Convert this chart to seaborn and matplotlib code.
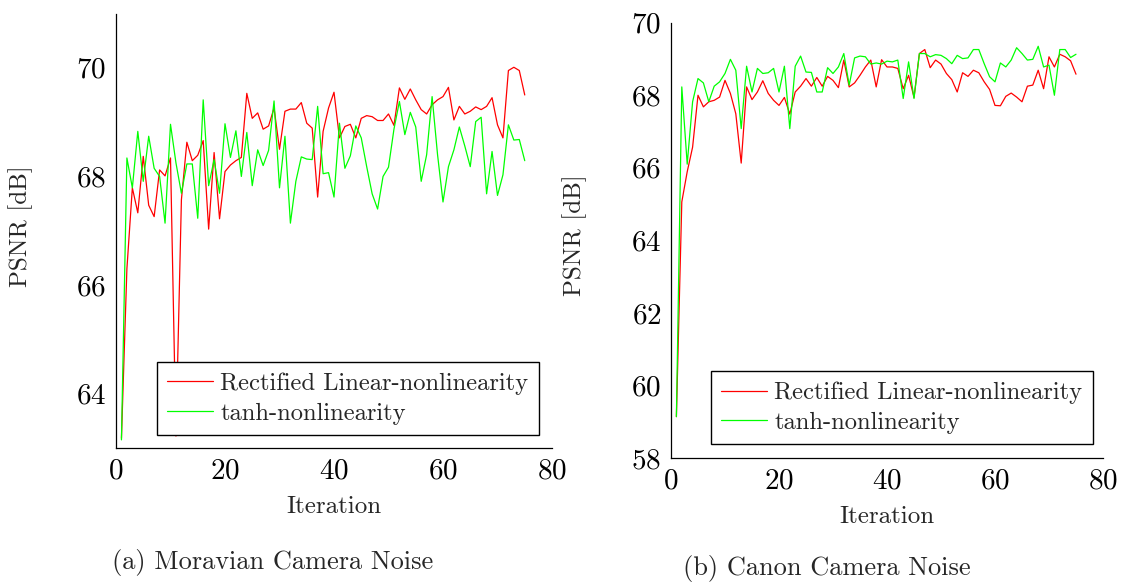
import numpy as np
import pandas as pd
import matplotlib
matplotlib.use("Agg")
import matplotlib.pyplot as plt
import seaborn as sns

# ---------------- data ----------------
iterations = list(range(1, 76))

moravian_relu = [63.18, 66.30, 67.79, 67.33, 68.37, 67.47, 67.26, 68.12, 68.01, 68.34,
                 63.22, 67.57, 68.63, 68.29, 68.39, 68.66, 67.03, 68.44, 67.22, 68.09,
                 68.21, 68.29, 68.35, 69.53, 69.07, 69.17, 68.87, 68.93, 69.26, 68.50,
                 69.20, 69.24, 69.24, 69.36, 68.98, 68.89, 67.62, 68.83, 69.26, 69.55,
                 68.71, 68.92, 68.96, 68.71, 69.07, 69.12, 69.10, 69.03, 69.03, 69.15,
                 68.94, 69.63, 69.42, 69.61, 69.41, 69.23, 69.15, 69.32, 69.41, 69.47,
                 69.64, 69.04, 69.29, 69.15, 69.20, 69.28, 69.23, 69.29, 69.45, 68.95,
                 68.71, 69.95, 70.01, 69.95, 69.50]

moravian_tanh = [63.15, 68.34, 67.79, 68.83, 67.91, 68.74, 68.15, 68.00, 67.14, 68.96,
                 68.25, 67.69, 68.23, 68.23, 67.23, 69.41, 67.83, 68.31, 67.69, 68.97,
                 68.35, 68.84, 68.00, 68.81, 67.83, 68.49, 68.20, 68.48, 69.39, 67.79,
                 68.74, 67.14, 67.91, 68.36, 68.32, 68.31, 69.29, 68.05, 68.07, 67.62,
                 68.98, 68.15, 68.38, 68.93, 68.71, 68.18, 67.68, 67.40, 68.00, 68.17,
                 68.87, 69.38, 68.77, 69.18, 68.91, 67.91, 68.40, 69.47, 68.40, 67.53,
                 68.18, 68.49, 68.91, 68.56, 68.18, 69.01, 69.09, 67.68, 68.46, 67.65,
                 68.03, 68.95, 68.67, 68.68, 68.29]

canon_relu = [59.14, 65.06, 65.89, 66.57, 68.00, 67.68, 67.82, 67.86, 67.95, 68.41,
              68.05, 67.49, 66.13, 68.23, 67.88, 68.09, 68.40, 68.05, 67.86, 67.72,
              67.94, 67.48, 68.09, 68.25, 68.46, 68.25, 68.49, 68.25, 68.52, 68.41,
              68.21, 68.97, 68.23, 68.34, 68.55, 68.78, 68.97, 68.23, 68.98, 68.78,
              68.78, 68.74, 68.18, 68.55, 67.94, 69.15, 69.26, 68.76, 68.97, 68.86,
              68.60, 68.43, 68.09, 68.62, 68.52, 68.69, 68.62, 68.37, 68.16, 67.72,
              67.71, 67.97, 68.06, 67.95, 67.82, 68.25, 68.28, 68.69, 68.18, 69.06,
              68.78, 69.13, 69.06, 68.95, 68.58]

canon_tanh = [59.14, 68.23, 66.10, 67.82, 68.46, 68.34, 67.82, 68.25, 68.37, 68.60,
              68.99, 68.69, 67.08, 68.80, 68.09, 68.74, 68.60, 68.62, 68.74, 68.09,
              68.80, 67.08, 68.80, 69.08, 68.64, 68.63, 68.09, 68.09, 68.76, 68.60,
              68.78, 69.15, 68.28, 69.03, 69.08, 69.06, 68.86, 68.89, 68.86, 68.94,
              68.92, 68.97, 67.91, 68.92, 67.91, 69.15, 69.15, 69.06, 69.12, 69.10,
              69.01, 68.87, 69.10, 69.01, 69.03, 69.26, 69.26, 68.87, 68.51, 68.37,
              68.89, 68.78, 68.97, 69.31, 69.15, 68.97, 68.99, 69.35, 68.78, 68.83,
              68.00, 69.26, 69.26, 69.04, 69.13]

series_names = ["Rectified Linear-nonlinearity", "tanh-nonlinearity"]
series_colors = ["#ff0000", "#00ff00"]
x_ticks = [0, 20, 40, 60, 80]
left_y_ticks = [64, 66, 68, 70]
right_y_ticks = [58, 60, 62, 64, 66, 68, 70]
captions = ["(a) Moravian Camera Noise", "(b) Canon Camera Noise"]
x_label = "Iteration"
y_label = "PSNR [dB]"

# ---------------- style ----------------
sns.set_style("white")
plt.rcParams["font.family"] = ["cmr10", "DejaVu Serif"]
plt.rcParams["axes.formatter.use_mathtext"] = True
plt.rcParams["mathtext.fontset"] = "cm"

W, H = 1121, 583
fig = plt.figure(figsize=(W / 100, H / 100), dpi=100)


def px_axes(l, r, t, b):
    return fig.add_axes([l / W, 1 - b / H, (r - l) / W, (b - t) / H])


ax1 = px_axes(116, 552, 13.5, 448)
ax2 = px_axes(671, 1103, 22.7, 458)

palette = dict(zip(series_names, series_colors))


def make_df(a, b):
    return pd.DataFrame({
        "Iteration": iterations * 2,
        "PSNR": list(a) + list(b),
        "Method": [series_names[0]] * len(a) + [series_names[1]] * len(b),
    })


panels = [
    (ax1, make_df(moravian_relu, moravian_tanh), (63, 71), left_y_ticks, 0.094, 0.03,
     (21, 226), (334, 507), (116, 552, 448, 13.5)),
    (ax2, make_df(canon_relu, canon_tanh), (58, 70), right_y_ticks, 0.0926, 0.032,
     (575, 235), (887, 517), (671, 1103, 458, 22.7)),
]

for ax, df, ylim, yticks, lx, ly, ylab_c, xlab_c, (l, r, b, t) in panels:
    sns.lineplot(data=df, x="Iteration", y="PSNR", hue="Method", palette=palette,
                 linewidth=0.9, ax=ax, legend=True, estimator=None, sort=False)
    ax.set_xlim(0, 80)
    ax.set_ylim(*ylim)
    ax.set_xticks(x_ticks)
    ax.set_yticks(yticks)
    ax.tick_params(axis="both", direction="in", length=5, width=0.8,
                   color="#8a8a8a", labelsize=21, labelcolor="black", pad=7)
    for side in ["top", "right"]:
        ax.spines[side].set_visible(False)
    for side in ["left", "bottom"]:
        ax.spines[side].set_color("black")
        ax.spines[side].set_linewidth(0.9)
    ax.set_facecolor("white")

    ax.set_ylabel(y_label, fontsize=18)
    ax.yaxis.label.set_verticalalignment("center")
    ax.yaxis.set_label_coords((ylab_c[0] - l) / (r - l), (b - ylab_c[1]) / (b - t))
    ax.set_xlabel(x_label, fontsize=18)
    ax.xaxis.label.set_verticalalignment("center")
    ax.xaxis.set_label_coords((xlab_c[0] - l) / (r - l), (b - xlab_c[1]) / (b - t))

    handles, labels = ax.get_legend_handles_labels()
    leg = ax.legend(handles, labels, loc="lower left", bbox_to_anchor=(lx, ly),
                    borderaxespad=0, fontsize=17.7, frameon=True, fancybox=False,
                    framealpha=1, edgecolor="black", handlelength=1.85,
                    handletextpad=0.3, borderpad=0.42, labelspacing=0.3)
    leg.get_frame().set_linewidth(1.0)
    leg.set_zorder(10)

fig.text(273 / W, 1 - 563 / H, captions[0], ha="center", va="center", fontsize=19)
fig.text(827 / W, 1 - 569 / H, captions[1], ha="center", va="center", fontsize=19)

fig.savefig("out.png", dpi=100, facecolor="white")
